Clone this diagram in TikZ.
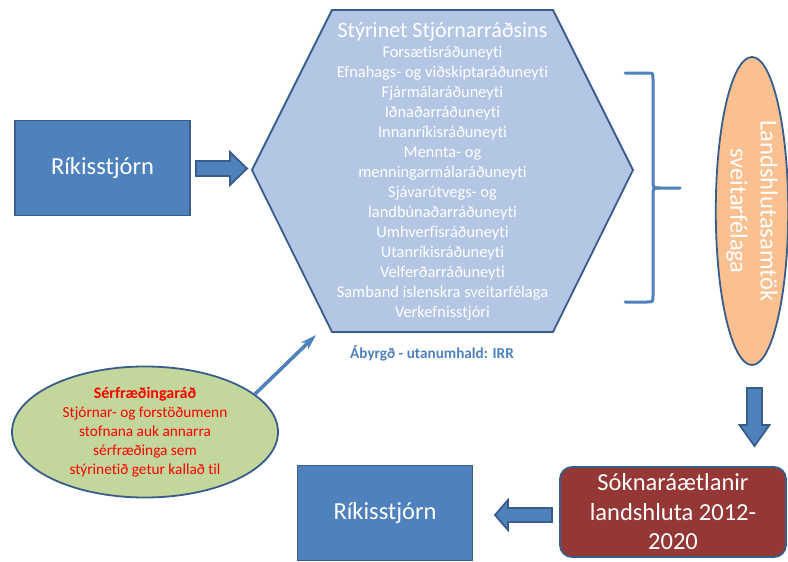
\documentclass[tikz,border=0pt]{standalone}
\usepackage{fontspec}
\setmainfont{Carlito}[Ligatures={NoCommon,NoContextual}]
\usetikzlibrary{arrows.meta,shapes.geometric}
\definecolor{boxblue}{HTML}{4F81BD}
\definecolor{edgeblue}{HTML}{385D8A}
\definecolor{netblue}{HTML}{B3C6E3}
\definecolor{regorange}{HTML}{FAC090}
\definecolor{councilgreen}{HTML}{C3D69B}
\definecolor{planred}{HTML}{953735}

\begin{document}
\begin{tikzpicture}[x=1pt,y=-1pt,
  govbox/.style={draw=edgeblue, line width=1.8pt, fill=boxblue, text=white,
    minimum width=175pt, minimum height=95pt, inner sep=2pt,
    font=\fontsize{24.5}{29.5}\selectfont},
  blockarrow/.style={draw=edgeblue, line width=1.8pt, fill=boxblue, line join=miter},
  bracket/.style={draw=boxblue, line width=3pt, line cap=round},
  whitetext/.style={text=white, align=center}]
  \fill[white] (0,0) rectangle (788,562);
  \useasboundingbox (0,0) rectangle (788,562);

  % hexagon of the steering network
  \draw[line width=1.8pt, draw=edgeblue, fill=netblue]
    (332,10) -- (553,10) -- (633,170) -- (553,332) -- (332,332) -- (252,170) -- cycle;
  \node[whitetext, font=\fontsize{22}{26}\selectfont] (nettitle) at (442.5,32) {Stýrinet Stjórnarráðsins};
  \node[whitetext, font=\fontsize{16.4}{20}\selectfont] (netlist) at (442.5,183)
    {Forsætisráðuneyti\\Efnahags- og viðskiptaráðuneyti\\Fjármálaráðuneyti\\Iðnaðarráðuneyti\\
     Innanríkisráðuneyti\\Mennta- og\\menningarmálaráðuneyti\\Sjávarútvegs- og\\
     landbúnaðarráðuneyti\\Umhverfisráðuneyti\\Utanríkisráðuneyti\\Velferðarráðuneyti\\
     Samband íslenskra sveitarfélaga\\Verkefnisstjóri};
  \node[text=boxblue, font=\bfseries\fontsize{15.2}{18}\selectfont] (irr) at (432,353) {Ábyrgð - utanumhald: IRR};

  % boxes
  \node[govbox] (gov) at (102.5,168) {Ríkisstjórn};
  \node[govbox] (govlow) at (385,513) {Ríkisstjórn};
  \node[draw=edgeblue, line width=1.8pt, fill=planred, rounded corners=12pt, whitetext,
    minimum width=226pt, minimum height=90pt, inner sep=2pt,
    font=\fontsize{24.5}{29.5}\selectfont] (plan) at (673,512)
    {Sóknaráætlanir\\landshluta 2012-\\2020};

  % ellipses
  \node[ellipse, rotate=-90, draw=edgeblue, line width=1.8pt, fill=regorange, whitetext,
    minimum width=308pt, minimum height=70pt, inner sep=0pt,
    font=\fontsize{24.5}{30}\selectfont] (regions) at (752,211)
    {Landshlutasamtök\\sveitarfélaga};
  \node[ellipse, draw=edgeblue, line width=1.8pt, fill=councilgreen, text=red, align=center,
    minimum width=266pt, minimum height=131pt, inner sep=0pt,
    font=\fontsize{15.3}{19}\selectfont] (council) at (145,432)
    {\textbf{\fontsize{16}{19}\selectfont Sérfræðingaráð}\\Stjórnar- og forstöðumenn\\
     stofnana auk annarra\\sérfræðinga sem\\stýrinetið getur kallað til};

  % bracket
  \draw[bracket] (625,73) -- (647,73) .. controls (653,73) .. (653,79) -- (653,181)
    .. controls (653,188) .. (660,188) -- (680,188);
  \draw[bracket] (625,302) -- (647,302) .. controls (653,302) .. (653,296) -- (653,195)
    .. controls (653,188) .. (660,188);

  % block arrows
  \draw[blockarrow] (196,161) -- (230,161) -- (230,152) -- (247,168.5) -- (230,185)
    -- (230,176) -- (196,176) -- cycle;
  \draw[blockarrow] (747,388) -- (762,388) -- (762,425) -- (769.5,425) -- (754.5,446)
    -- (739.5,425) -- (747,425) -- cycle;
  \draw[blockarrow] (552,508) -- (508,508) -- (508,500) -- (495,515) -- (508,530)
    -- (508,522) -- (552,522) -- cycle;

  % thin arrow to the network
  \coordinate (irrtip) at (316,335);
  \draw[boxblue, line width=3.5pt, -{Stealth[length=16pt,width=10pt]}] (council.19) -- (irrtip);
\end{tikzpicture}
\end{document}
